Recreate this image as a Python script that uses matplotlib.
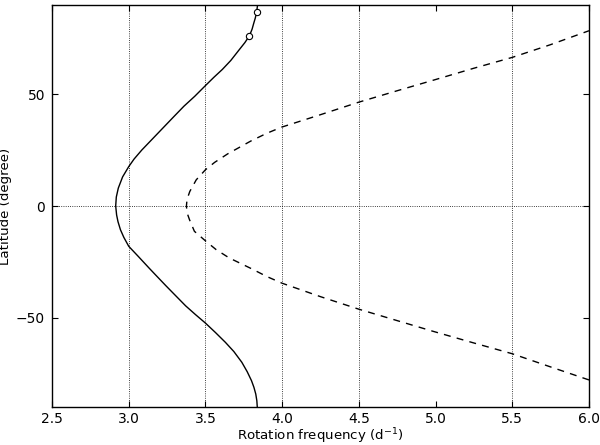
import numpy as np
import matplotlib
matplotlib.use("Agg")
import matplotlib.pyplot as plt

# solid curve (latitude in degree, rotation frequency in 1/d)
lat_solid = [-90, -87, -84, -81, -78, -74, -69.8, -65, -60.9, -56.5, -52.3,
             -48.5, -44.6, -40, -35.6, -31, -27.6, -22.5, -18, -14, -10.6, -7,
             -4, 0, 4, 8, 13, 17.6, 21, 25, 30, 35, 40, 44.6, 49, 53.8, 57.5,
             61, 65, 69.8, 73, 76.1, 79, 81.7, 84, 86.8, 90]
f_solid = [3.838, 3.835, 3.828, 3.816, 3.800, 3.772, 3.737, 3.685, 3.630, 3.565,
           3.500, 3.435, 3.371, 3.305, 3.242, 3.178, 3.131, 3.062, 3.000, 2.968,
           2.946, 2.930, 2.921, 2.915, 2.919, 2.932, 2.960, 3.000, 3.035, 3.085,
           3.155, 3.225, 3.295, 3.360, 3.430, 3.500, 3.555, 3.610, 3.665, 3.720,
           3.757, 3.787, 3.804, 3.815, 3.825, 3.834, 3.840]

# dashed curve
lat_dash = [-77.7, -71.8, -66.0, -61.0, -56.0, -51.0, -46.1, -40.5, -34.5, -31.5,
            -28.0, -23.2, -19.5, -15.8, -11.3, -6.1, -3.0, 0, 3.0, 6.5, 11.7,
            16.2, 19.5, 23.3, 29.0, 32.4, 35.2, 40.8, 46.4, 51.5, 56.5, 61.5,
            66.4, 72.0, 78.3]
f_dash = [6.000, 5.746, 5.500, 5.240, 4.985, 4.740, 4.500, 4.250, 4.000, 3.900,
          3.800, 3.655, 3.570, 3.504, 3.428, 3.396, 3.380, 3.376, 3.380, 3.398,
          3.440, 3.500, 3.560, 3.645, 3.795, 3.897, 3.995, 4.250, 4.500, 4.750,
          5.000, 5.247, 5.500, 5.746, 6.000]

# open circle markers
lat_mark = [76.1, 86.8]
f_mark = [3.787, 3.834]

xticks = [2.5, 3.0, 3.5, 4.0, 4.5, 5.0, 5.5, 6.0]
yticks = [-50, 0, 50]
xgrid = [3.0, 3.5, 4.0, 4.5, 5.5]

plt.rcParams['font.family'] = ['DejaVu Sans']

fig = plt.figure(figsize=(6, 4.45), dpi=100)
ax = fig.add_axes([0.0867, 0.0843, 0.895, 0.9055])

for xg in xgrid:
    ax.axvline(xg, color='k', linestyle=':', linewidth=0.6, zorder=1)
ax.axhline(0, color='k', linestyle=':', linewidth=0.6, zorder=1)

ax.plot(f_solid, lat_solid, color='k', linewidth=1.0, zorder=3)
ax.plot(f_dash, lat_dash, color='k', linewidth=1.0, dashes=(5, 4.5), zorder=3)
ax.plot(f_mark, lat_mark, 'o', markersize=4.5, markerfacecolor='white',
        markeredgecolor='k', markeredgewidth=0.8, zorder=4)

ax.set_xlim(2.5, 6.0)
ax.set_ylim(-90, 90)
ax.set_xticks(xticks)
ax.set_yticks(yticks)
ax.tick_params(direction='in', length=4, width=0.8, top=True, right=True,
               labelsize=10)
ax.tick_params(axis='x', pad=3)
ax.tick_params(axis='y', pad=5)
for s in ax.spines.values():
    s.set_linewidth(1.0)

ax.set_xlabel("Rotation frequency (d$^{-1}$)", fontsize=9.6, labelpad=0.5)
ax.set_ylabel("Latitude (degree)", fontsize=9.6, labelpad=3)

plt.savefig("out.png", dpi=100)
